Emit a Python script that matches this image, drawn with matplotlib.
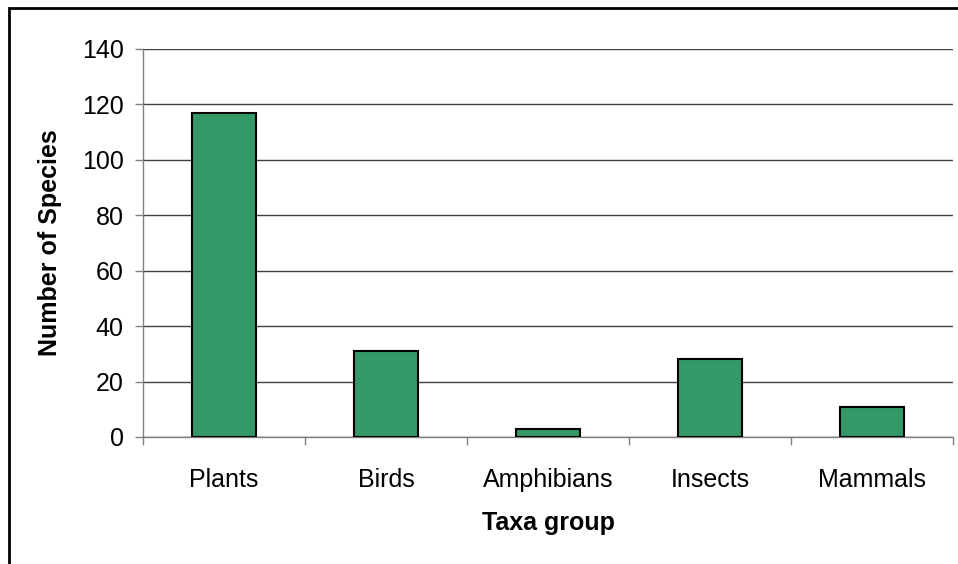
import matplotlib.pyplot as plt
from matplotlib.patches import Rectangle
import numpy as np

# data
taxa = ['Plants', 'Birds', 'Amphibians', 'Insects', 'Mammals']
species = [117, 31, 3, 28, 11]
y_ticks = [0, 20, 40, 60, 80, 100, 120, 140]

plt.rcParams['font.family'] = ['Liberation Sans', 'DejaVu Sans']

fig = plt.figure(figsize=(9.58, 5.64), dpi=100)
ax = fig.add_axes([143/958, 1 - 437/564, 810/958, 388/564])

# outer chart border (only left and top visible in the original crop)
fig.patches.append(Rectangle((8.5/958, -0.1), 1.2, 1.1 - 7.5/564, transform=fig.transFigure,
                             fill=False, edgecolor='black', linewidth=2, zorder=10))

x = np.arange(len(taxa))
ax.bar(x, species, width=0.4, color='#339966', edgecolor='black', linewidth=1.5, zorder=3)

ax.set_xlim(-0.5, len(taxa) - 0.5)
ax.set_ylim(0, 140)
ax.set_yticks(y_ticks)
ax.yaxis.grid(True, color='#404040', linewidth=1)
ax.set_axisbelow(True)

ax.set_xticks(np.arange(-0.5, len(taxa), 1.0))
ax.set_xticklabels([])
ax.set_xticks(x, minor=True)
ax.set_xticklabels(taxa, minor=True)
ax.tick_params(axis='x', which='major', length=6, color='#808080', width=1)
ax.tick_params(axis='x', which='minor', length=0, pad=22, labelsize=18)
ax.tick_params(axis='y', length=6, color='#808080', width=1, labelsize=18, pad=8)

for s in ['top', 'right']:
    ax.spines[s].set_visible(False)
for s in ['left', 'bottom']:
    ax.spines[s].set_color('#808080')
    ax.spines[s].set_linewidth(1)

ax.set_xlabel('Taxa group', fontsize=18, fontweight='bold', labelpad=14)
ax.set_ylabel('Number of Species', fontsize=18, fontweight='bold', labelpad=14)

fig.savefig('out.png', dpi=100)
